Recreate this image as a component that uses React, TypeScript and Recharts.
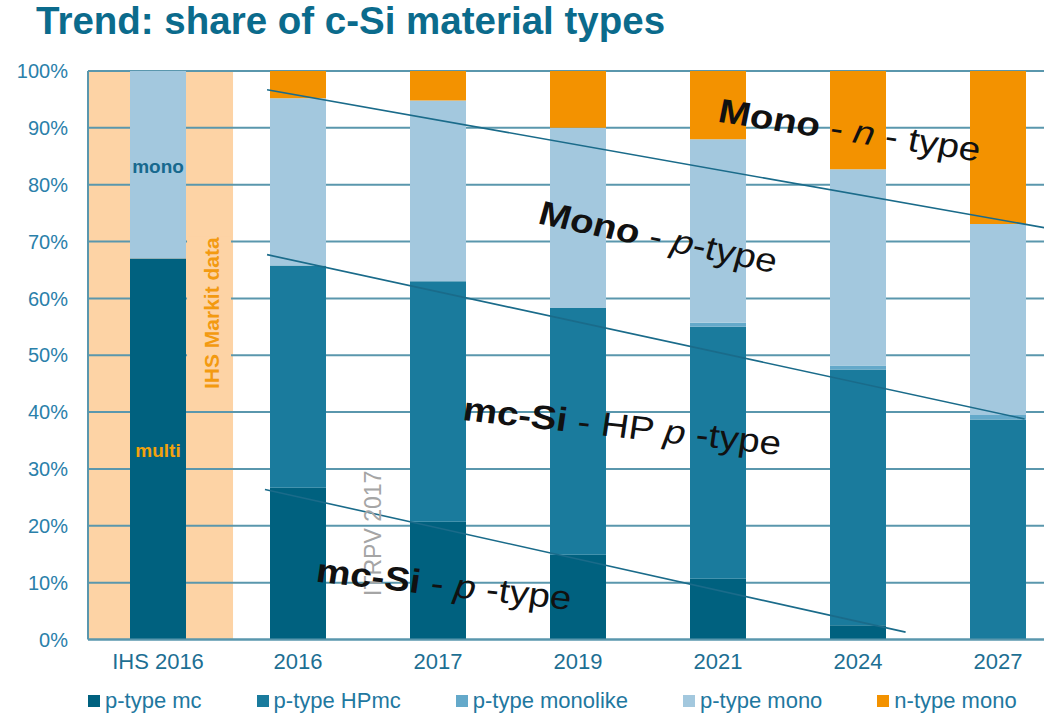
import React from 'react';
import {
  ComposedChart,
  Bar,
  XAxis,
  YAxis,
  CartesianGrid,
  ReferenceArea,
  ReferenceLine,
  ReferenceDot,
  Legend,
} from 'recharts';

const FONT = '"Liberation Sans", Arial, Helvetica, sans-serif';

// ---- data ----
const categories = ['IHS 2016', '2016', '2017', '2019', '2021', '2024', '2027'];
const pTypeMc = [67, 26.7, 20.7, 14.9, 10.7, 2.5, 0];
const pTypeHPmc = [0, 39.1, 42.3, 43.4, 44.3, 45.0, 38.7];
const pTypeMonolike = [0, 0, 0, 0, 0.7, 0.7, 0.8];
const pTypeMono = [33, 29.4, 31.8, 31.7, 32.3, 34.5, 33.6];
const nTypeMono = [0, 4.8, 5.2, 10.0, 12.0, 17.3, 26.9];

const seriesKeys = ['mc', 'hp', 'ml', 'mono', 'n'];
const seriesNames = ['p-type mc', 'p-type HPmc', 'p-type monolike', 'p-type mono', 'n-type mono'];
const seriesColors = ['#00617f', '#1a7b9d', '#64a9ca', '#a3c8de', '#f39200'];

const yTicks = [0, 10, 20, 30, 40, 50, 60, 70, 80, 90, 100];

// trend lines: [category-index position, percent]
const trendFrom = [[1.279, 96.7], [1.279, 67.7], [1.264, 26.4]];
const trendTo = [[7, 71.7], [6.69, 38.8], [5.84, 1.3]];

// peach "IHS Markit data" band (category index range)
const ihsBand = [0, 1.036];

// slanted annotations
const annoText = [
  [{ t: 'Mono', b: true }, { t: ' - ' }, { t: 'n', i: true }, { t: ' - type' }],
  [{ t: 'Mono', b: true }, { t: ' - ' }, { t: 'p', i: true }, { t: '-type' }],
  [{ t: 'mc-Si', b: true }, { t: ' - HP ' }, { t: 'p', i: true }, { t: ' -type' }],
  [{ t: 'mc-Si', b: true }, { t: ' - ' }, { t: 'p', i: true }, { t: ' -type' }],
];
const annoIdx = [4.491, 3.205, 2.669, 1.621];
const annoPct = [91.1, 73.2, 38.6, 10.2];
const annoAngle = [9.97, 13.57, 7.21, 7.32];

const data = categories.map((name, i) => ({
  name,
  pos: i + 0.5,
  mc: pTypeMc[i],
  hp: pTypeHPmc[i],
  ml: pTypeMonolike[i],
  mono: pTypeMono[i],
  n: nTypeMono[i],
}));

const GRID = '#5a97ad';
const PEACH = '#fdd3a5';

const LegendContent = () => (
  <div
    style={{
      display: 'flex',
      alignItems: 'center',
      height: 24,
      paddingLeft: 88,
      fontFamily: FONT,
      fontSize: 22,
      color: '#1f78a0',
      whiteSpace: 'nowrap',
    }}
  >
    {seriesNames.map((n, i) => (
      <div key={n} style={{ display: 'flex', alignItems: 'center', marginRight: 55 }}>
        <span style={{ display: 'inline-block', width: 12, height: 12, background: seriesColors[i], marginRight: 5 }} />
        <span>{n}</span>
      </div>
    ))}
  </div>
);

const slanted = (k: number) => (props: any) => {
  const { cx, cy } = props;
  return (
    <g transform={`translate(${cx},${cy}) scale(1.15,1) rotate(${annoAngle[k]})`}>
      <text x={0} y={0} fontSize={33.5} fill="#111" fontFamily={FONT} style={{ whiteSpace: 'pre' }}>
        {annoText[k].map((p: any, i: number) => (
          <tspan key={i} fontWeight={p.b ? 'bold' : 'normal'} fontStyle={p.i ? 'italic' : 'normal'}>
            {p.t}
          </tspan>
        ))}
      </text>
    </g>
  );
};

const barLabel = (txt: string, color: string) => (props: any) => {
  const { cx, cy } = props;
  return (
    <text x={cx} y={cy} textAnchor="middle" fontSize={19} fontWeight="bold" fill={color} fontFamily={FONT}>
      {txt}
    </text>
  );
};

const ihsText = (props: any) => {
  const { cx, cy } = props;
  return (
    <g>
      <rect x={cx - 32} y={cy - 77} width={44} height={156} fill={PEACH} />
      <text
        transform={`translate(${cx},${cy}) rotate(-90)`}
        x={0}
        y={0}
        textAnchor="middle"
        fontSize={21}
        fontWeight="bold"
        fill="#f39a10"
        fontFamily={FONT}
      >
        IHS Markit data
      </text>
    </g>
  );
};

const itrpvText = (props: any) => {
  const { cx, cy } = props;
  return (
    <text
      transform={`translate(${cx},${cy}) rotate(-90)`}
      x={0}
      y={0}
      textAnchor="middle"
      fontSize={23}
      fill="#a5a5a5"
      fontFamily={FONT}
    >
      ITRPV 2017
    </text>
  );
};

export default function App() {
  return (
    <div
      style={{
        position: 'absolute',
        left: 0,
        top: 0,
        width: 1044,
        height: 713,
        overflow: 'hidden',
        background: '#ffffff',
      }}
    >
      <div
        style={{
          position: 'absolute',
          left: 36,
          top: 2,
          fontFamily: FONT,
          fontSize: 38.5,
          fontWeight: 'bold',
          lineHeight: 1,
          color: '#0b6b8c',
          whiteSpace: 'nowrap',
          zIndex: 2,
        }}
      >
        Trend: share of c-Si material types
      </div>
      <ComposedChart
        width={1080}
        height={713}
        data={data}
        margin={{ top: 71, right: 12, bottom: 0, left: 0 }}
        style={{ fontFamily: FONT }}
      >
        <ReferenceArea
          xAxisId="idx"
          x1={ihsBand[0]}
          x2={ihsBand[1]}
          y1={0}
          y2={100}
          fill={PEACH}
          fillOpacity={1}
          stroke="none"
          zIndex={-150}
        />
        <CartesianGrid vertical={false} stroke={GRID} strokeWidth={2} strokeOpacity={1} />
        <XAxis
          xAxisId="cat"
          dataKey="name"
          type="category"
          height={49.5}
          tickLine={false}
          tickSize={0}
          tickMargin={14}
          axisLine={{ stroke: GRID, strokeWidth: 2 }}
          tick={{ fill: '#1d6f93', fontSize: 22, fontFamily: FONT }}
          interval={0}
        />
        <XAxis xAxisId="idx" dataKey="pos" type="number" domain={[0, 7]} allowDataOverflow hide />
        <YAxis
          domain={[0, 100]}
          ticks={yTicks}
          tickFormatter={(v: number) => `${v}%`}
          width={88}
          tickLine={false}
          tickSize={0}
          tickMargin={20}
          axisLine={{ stroke: GRID, strokeWidth: 2 }}
          tick={{ fill: '#2a80aa', fontSize: 20, fontFamily: FONT }}
          allowDataOverflow
        />
        {seriesKeys.map((k, i) => (
          <Bar
            key={k}
            xAxisId="cat"
            dataKey={k}
            name={seriesNames[i]}
            stackId="a"
            fill={seriesColors[i]}
            barSize={56}
            isAnimationActive={false}
          />
        ))}
        {trendFrom.map((f, i) => (
          <ReferenceLine
            key={`t${i}`}
            xAxisId="idx"
            segment={[
              { x: f[0], y: f[1] },
              { x: trendTo[i][0], y: trendTo[i][1] },
            ]}
            stroke="#1a6b8a"
            strokeWidth={1.6}
            ifOverflow="visible"
            zIndex={700}
          />
        ))}
        <ReferenceDot xAxisId="idx" x={0.5} y={82.06} r={0} shape={barLabel('mono', '#17698e')} zIndex={800} ifOverflow="visible" />
        <ReferenceDot xAxisId="idx" x={0.5} y={32.05} r={0} shape={barLabel('multi', '#f2a20c')} zIndex={800} ifOverflow="visible" />
        <ReferenceDot xAxisId="idx" x={0.936} y={57.4} r={0} shape={ihsText} zIndex={800} ifOverflow="visible" />
        <ReferenceDot xAxisId="idx" x={2.096} y={18.68} r={0} shape={itrpvText} zIndex={800} ifOverflow="visible" />
        {annoIdx.map((x, k) => (
          <ReferenceDot
            key={`a${k}`}
            xAxisId="idx"
            x={x}
            y={annoPct[k]}
            r={0}
            shape={slanted(k)}
            zIndex={900}
            ifOverflow="visible"
          />
        ))}
        <Legend verticalAlign="bottom" align="left" content={<LegendContent />} wrapperStyle={{ height: 24 }} />
      </ComposedChart>
    </div>
  );
}
